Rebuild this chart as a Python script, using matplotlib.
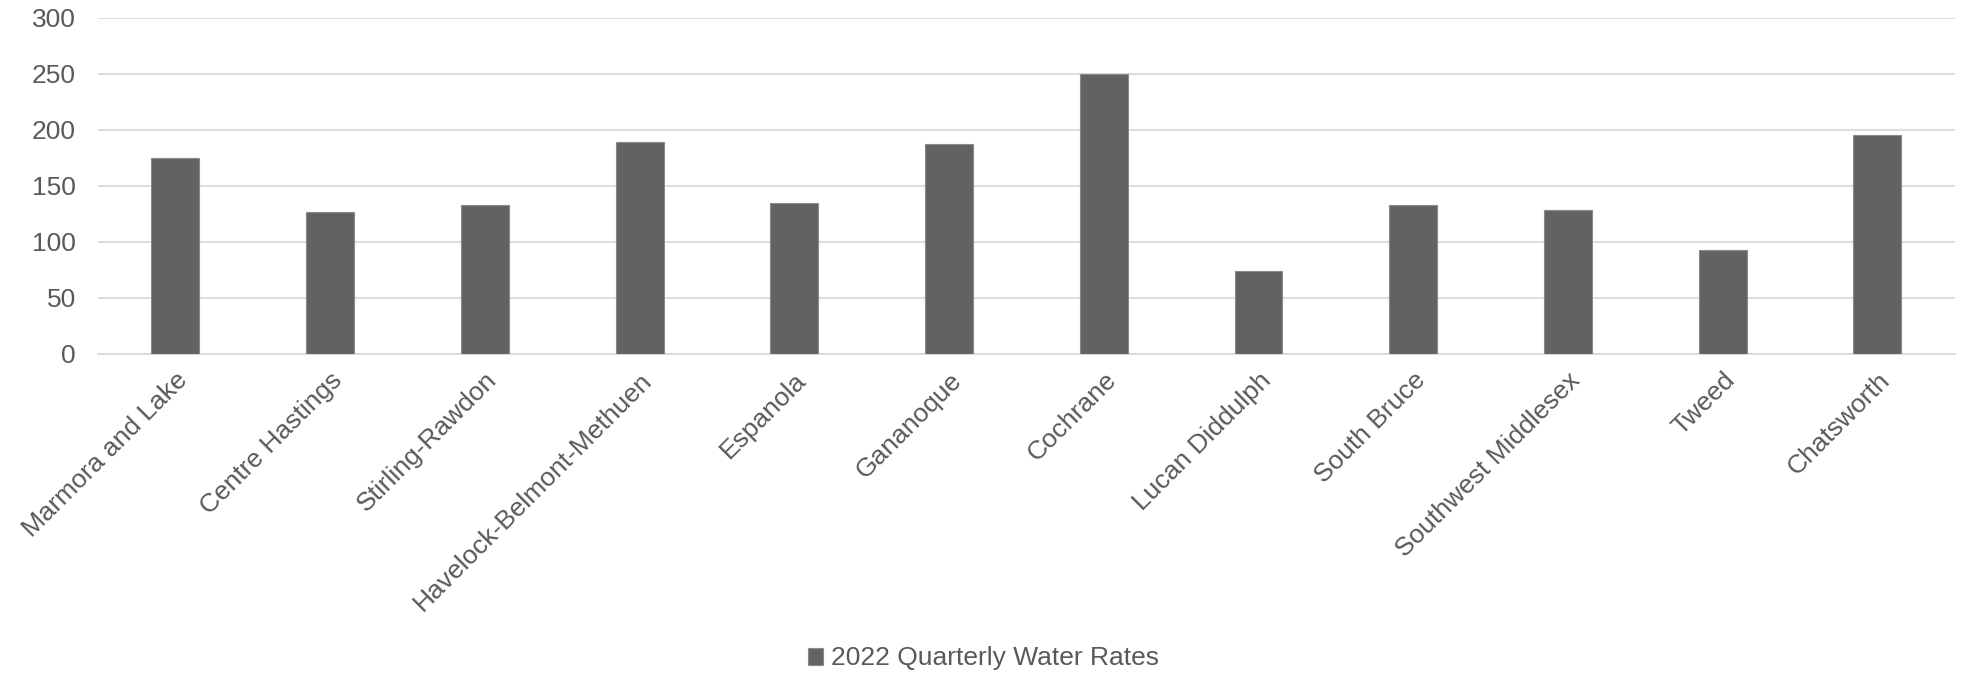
import numpy as np
import matplotlib.pyplot as plt

plt.rcParams['font.family'] = ['Liberation Sans', 'DejaVu Sans']

towns = ['Marmora and Lake', 'Centre Hastings', 'Stirling-Rawdon',
         'Havelock-Belmont-Methuen', 'Espanola', 'Gananoque', 'Cochrane',
         'Lucan Diddulph', 'South Bruce', 'Southwest Middlesex', 'Tweed',
         'Chatsworth']
rates_2022 = [175, 127, 133, 189, 135, 187, 250, 74, 133, 128, 93, 195]
yticks = [0, 50, 100, 150, 200, 250, 300]

text_col = '#595959'
bar_col = '#626262'
grid_col = '#d9d9d9'

fig = plt.figure(figsize=(19.67, 6.74), dpi=100)
ax = fig.add_axes([0.0498, 0.4748, 0.944, 0.499])

x = np.arange(len(towns))
ax.bar(x, rates_2022, width=0.31, color=bar_col, edgecolor='#8a8a8a',
       linewidth=0.8, zorder=3, label='2022 Quarterly Water Rates')

ax.set_xlim(-0.5, len(towns) - 0.5)
ax.set_ylim(0, 300)
ax.set_yticks(yticks)
ax.grid(axis='y', color=grid_col, linewidth=1.3, zorder=0)
ax.set_axisbelow(True)
for s in ['top', 'right', 'left']:
    ax.spines[s].set_visible(False)
ax.spines['bottom'].set_color(grid_col)
ax.spines['bottom'].set_linewidth(1.3)

ax.tick_params(axis='y', length=0, pad=16, labelsize=19, labelcolor=text_col)
ax.tick_params(axis='x', length=0, pad=10, labelsize=19, labelcolor=text_col)
ax.set_xticks(x)
ax.set_xticklabels(towns, rotation=45, ha='right', va='top',
                   rotation_mode='anchor')

fig.legend(loc='lower center', bbox_to_anchor=(0.5, -0.03), frameon=False,
           fontsize=19, labelcolor=text_col, handlelength=0.6,
           handleheight=0.6, handletextpad=0.3)

fig.savefig('out.png', dpi=100)
